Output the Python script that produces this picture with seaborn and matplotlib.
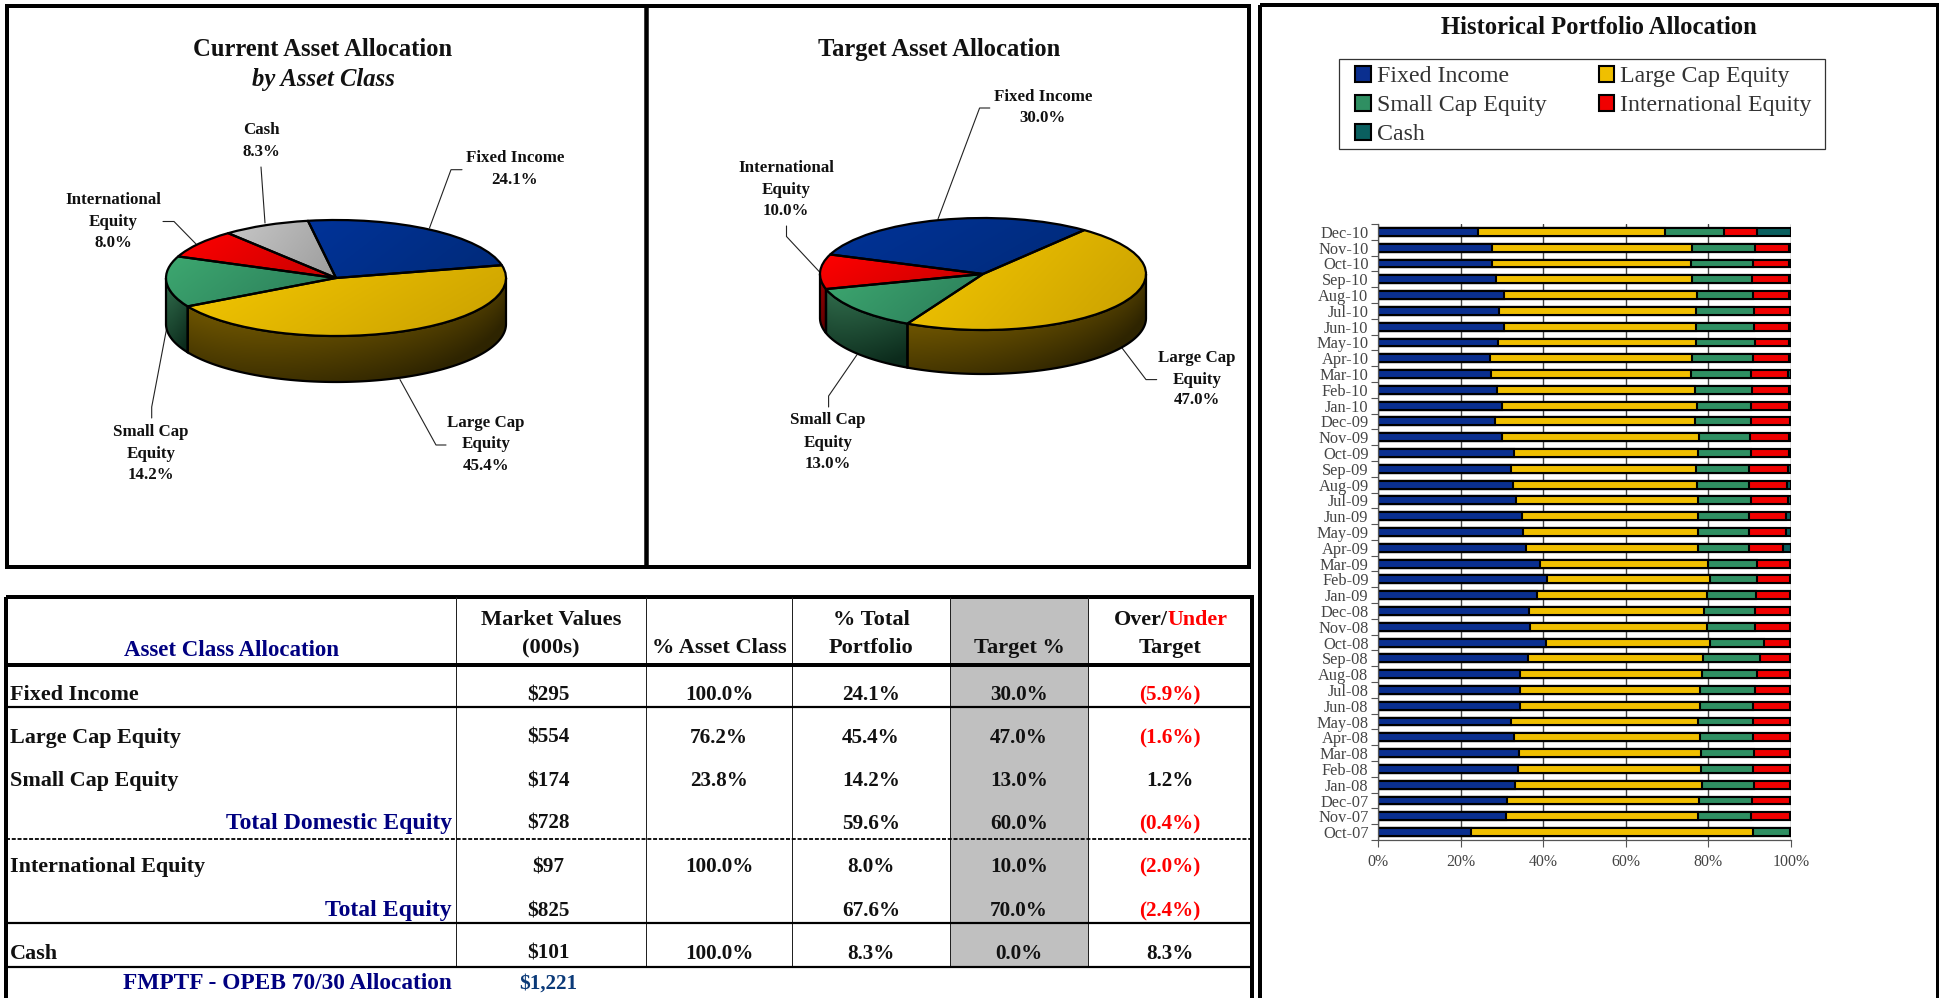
import numpy as np
import matplotlib
matplotlib.use("Agg")
import matplotlib.pyplot as plt
from matplotlib.patches import Rectangle, Polygon
from matplotlib.colors import to_rgb
import seaborn as sns

# ---------- data ----------
asset_names = ["Fixed Income", "Large Cap Equity", "Small Cap Equity", "International Equity", "Cash"]
current_values = [24.1, 45.4, 14.2, 8.0, 8.3]
target_values = [30.0, 47.0, 13.0, 10.0, 0.0]

months = ["Dec-10","Nov-10","Oct-10","Sep-10","Aug-10","Jul-10","Jun-10","May-10","Apr-10","Mar-10","Feb-10","Jan-10",
          "Dec-09","Nov-09","Oct-09","Sep-09","Aug-09","Jul-09","Jun-09","May-09","Apr-09","Mar-09","Feb-09","Jan-09",
          "Dec-08","Nov-08","Oct-08","Sep-08","Aug-08","Jul-08","Jun-08","May-08","Apr-08","Mar-08","Feb-08","Jan-08",
          "Dec-07","Nov-07","Oct-07"]
hist_fixed = [24.1,27.5,27.7,28.5,30.6,29.4,30.6,29.1,27.2,27.4,28.8,30.0,28.4,30.1,32.9,32.1,32.8,33.5,34.9,35.1,35.9,
              39.2,41.0,38.5,36.6,36.7,40.7,36.4,34.4,34.4,34.4,32.2,32.9,34.2,33.9,33.1,31.3,31.1,22.6]
hist_large = [45.4,48.6,48.2,47.6,46.7,47.5,46.5,47.8,48.8,48.5,47.9,47.2,48.3,47.6,44.6,44.8,44.4,43.9,42.5,42.5,41.5,
              40.8,39.4,41.2,42.3,43.0,39.7,42.3,44.0,43.6,43.6,45.3,45.1,44.0,44.3,45.3,46.5,46.5,68.2]
hist_small = [14.2,15.1,14.8,14.5,13.5,14.2,14.0,14.4,14.8,14.3,13.9,13.1,13.5,12.4,12.7,12.9,12.6,12.8,12.5,12.3,12.4,
              11.8,11.4,11.8,12.4,11.6,13.1,13.9,13.4,13.2,12.8,13.3,12.8,12.8,12.6,12.7,12.7,12.7,9.0]
hist_intl = [8.0,8.4,8.9,8.8,8.7,8.6,8.3,8.3,8.7,9.1,8.8,9.1,9.6,9.3,9.3,9.4,9.2,9.1,8.8,8.9,8.3,
             8.0,8.0,8.3,8.5,8.5,6.3,7.2,8.0,8.6,9.0,9.0,9.0,8.8,9.0,8.7,9.3,9.5,0.0]
hist_cash = [8.3,0.4,0.4,0.6,0.5,0.3,0.6,0.4,0.5,0.7,0.6,0.6,0.2,0.6,0.5,0.8,1.0,0.7,1.3,1.2,1.9,
             0.2,0.2,0.2,0.2,0.2,0.2,0.2,0.2,0.2,0.2,0.2,0.2,0.2,0.2,0.2,0.2,0.2,0.2]

table_labels = ["Fixed Income", "Large Cap Equity", "Small Cap Equity", "Total Domestic Equity",
                "International Equity", "Total Equity", "Cash"]
table_market = ["$295", "$554", "$174", "$728", "$97", "$825", "$101"]
table_class = ["100.0%", "76.2%", "23.8%", "", "100.0%", "", "100.0%"]
table_total = ["24.1%", "45.4%", "14.2%", "59.6%", "8.0%", "67.6%", "8.3%"]
table_target = ["30.0%", "47.0%", "13.0%", "60.0%", "10.0%", "70.0%", "0.0%"]
table_over = ["(5.9%)", "(1.6%)", "1.2%", "(0.4%)", "(2.0%)", "(2.4%)", "8.3%"]

# ---------- style ----------
sns.set_theme(style="white")
plt.rcParams["font.family"] = ["Liberation Serif", "DejaVu Serif"]
W, H = 1940, 998
fig = plt.figure(figsize=(W / 100, H / 100), dpi=100, facecolor="white")
PX = 0.72

bar_colors = ["#0a2f8f", "#f0bf00", "#2f8f62", "#f00000", "#0a5f5f"]
top_light = ["#003399", "#f5c800", "#3da870", "#ff0000", "#c8c8c8"]
top_dark = ["#002a78", "#c9a000", "#2a7a58", "#c80000", "#9c9c9c"]
wall_light = ["#002a78", "#6e5500", "#2f6a4a", "#a00000", "#666666"]
wall_dark = ["#001030", "#2e2400", "#0c2b1c", "#500000", "#333333"]


def px_axes(x0, y0, x1, y1, **kw):
    return fig.add_axes([x0 / W, 1 - y1 / H, (x1 - x0) / W, (y1 - y0) / H], **kw)


bg = fig.add_axes([0, 0, 1, 1], zorder=0)
bg.set_xlim(0, W)
bg.set_ylim(H, 0)
bg.axis("off")


def hline(y, x0, x1, px=1.0, **kw):
    bg.plot([x0, x1], [y, y], color=kw.pop("color", "black"), lw=px * PX, solid_capstyle="butt", **kw)


def vline(x, y0, y1, px=1.0, color="black"):
    bg.plot([x, x], [y0, y1], color=color, lw=px * PX, solid_capstyle="butt")


def frame(x0, y0, x1, y1, px=4):
    bg.add_patch(Rectangle((x0, y0), x1 - x0, y1 - y0, fill=False, ec="black", lw=px * PX, joinstyle="miter"))


frame(7, 5.5, 1249.5, 566.5)
vline(646, 5, 566, 4.5)
frame(1260, 5, 1938, 1015)


# ---------- pseudo-3D pies ----------
def shade_image(ax, clip, extent, t, light, dark, zorder):
    a, b = np.array(to_rgb(light)), np.array(to_rgb(dark))
    img = a[None, None, :] * (1 - t[..., None]) + b[None, None, :] * t[..., None]
    im = ax.imshow(img, extent=extent, origin="lower", aspect="auto", zorder=zorder, interpolation="bilinear")
    im.set_clip_path(clip)


def pie3d(values, start, cx, cy, rx, ry, depth, box):
    x0, y0, x1, y1 = box
    ax = px_axes(x0, y0, x1, y1, zorder=1)
    ax.patch.set_alpha(0)
    keep = [i for i, v in enumerate(values) if v > 0]
    vals = [values[i] for i in keep]
    wedges, _ = ax.pie(vals, startangle=start, counterclock=False, colors=[top_light[i] for i in keep],
                       wedgeprops=dict(edgecolor="black", linewidth=1.6, joinstyle="round"), radius=1.0)
    d = depth / ry
    g = np.linspace(-1.02, 1.02, 260)
    gy = np.linspace(-1.02 - d, 1.02, 300)
    X, Y = np.meshgrid(g, gy)
    extent = (g[0], g[-1], gy[0], gy[-1])
    for w, i in zip(wedges, keep):
        th1, th2 = w.theta1, w.theta2
        th = np.radians(np.linspace(th1, th2, 120))
        xs = np.r_[0, np.cos(th)]
        ys = np.r_[0, np.sin(th)]
        xn = (X - xs.min()) / max(xs.max() - xs.min(), 1e-6)
        yn = (ys.max() - Y) / max(ys.max() - ys.min(), 1e-6)
        t = np.clip(0.72 * xn + 0.28 * yn, 0, 1)
        shade_image(ax, w, extent, t, top_light[i], top_dark[i], 4)
        w.set_facecolor("none")
        w.set_zorder(5)
        # front wall: part of the wedge's arc in the lower half of the ellipse
        for k in (-1, 0, 1):
            a1 = max(th1 + 360 * k, 180)
            a2 = min(th2 + 360 * k, 360)
            if a2 <= a1:
                continue
            arc = np.radians(np.linspace(a1, a2, 120))
            top = np.c_[np.cos(arc), np.sin(arc)]
            bot = (top - [0, d])[::-1]
            poly = Polygon(np.r_[top, bot], closed=True, fc="none", ec="black", lw=1.6, zorder=3)
            ax.add_patch(poly)
            yedge = -np.sqrt(np.clip(1 - X ** 2, 0, 1))
            frac = np.clip((yedge - Y) / d, 0, 1)
            xw = (X - top[:, 0].min()) / max(top[:, 0].max() - top[:, 0].min(), 1e-6)
            tw = np.clip(0.6 * xw + 0.55 * frac, 0, 1)
            shade_image(ax, poly, extent, tw, wall_light[i], wall_dark[i], 2)
    ax.set_aspect("auto")
    ax.set_xlim((x0 - cx) / rx, (x1 - cx) / rx)
    ax.set_ylim((cy - y1) / ry, (cy - y0) / ry)
    ax.axis("off")
    return ax


pie3d(current_values, 99.5, 336, 278, 170, 58, 46, (12, 100, 640, 560))
pie3d(target_values, 159.6, 983, 274, 163, 56, 44, (655, 100, 1245, 560))


def stack_label(cx, ys, lines, size=12.2):
    for y, s in zip(ys, lines):
        bg.text(cx, y, s, ha="center", va="center", fontsize=size, fontweight="bold", color="#111111", zorder=6)


def leader(pts):
    xs, ys = zip(*pts)
    bg.plot(xs, ys, color="#222222", lw=0.8, solid_joinstyle="miter", zorder=6)


# titles
TT = 17.7
bg.text(323, 49.5, "Current Asset Allocation", ha="center", va="center", fontsize=TT, fontweight="bold", color="#111111")
bg.text(323, 79.5, "by Asset Class", ha="center", va="center", fontsize=TT, fontweight="bold", style="italic", color="#111111")
bg.text(939, 49.5, "Target Asset Allocation", ha="center", va="center", fontsize=TT, fontweight="bold", color="#111111")
bg.text(1599, 27.5, "Historical Portfolio Allocation", ha="center", va="center", fontsize=TT, fontweight="bold", color="#111111")


def pct(v):
    return f"{v:.1f}%"


# current pie labels
stack_label(515, [158, 179.6], [asset_names[0], pct(current_values[0])])
stack_label(261, [129.6, 151.5], [asset_names[4], pct(current_values[4])])
stack_label(113, [199.6, 222, 242.7], ["International", "Equity", pct(current_values[3])])
stack_label(151, [431.8, 453.6, 474.8], ["Small Cap", "Equity", pct(current_values[2])])
stack_label(486, [423, 444.5, 466.4], ["Large Cap", "Equity", pct(current_values[1])])
leader([(429.5, 228), (451, 169.7), (462, 169.7)])
leader([(265, 223), (261, 167)])
leader([(196, 244), (174, 221.5), (163, 221.5)])
leader([(167, 326.6), (151.7, 407), (151.7, 418)])
leader([(400, 379.6), (436, 445), (446, 445)])

# target pie labels
stack_label(1043, [97, 118.2], [asset_names[0], pct(target_values[0])])
stack_label(786, [167.5, 189.8, 211], ["International", "Equity", pct(target_values[3])])
stack_label(828, [420.4, 442.7, 463.9], ["Small Cap", "Equity", pct(target_values[2])])
stack_label(1197, [357.7, 379.6, 400.4], ["Large Cap", "Equity", pct(target_values[1])])
leader([(938, 219), (979.6, 108), (989.8, 108)])
leader([(819.6, 272), (786.5, 236.5), (786.5, 226)])
leader([(857, 354.7), (828.6, 396), (828.6, 407)])
leader([(1121.6, 347.4), (1146, 379.6), (1156.7, 379.6)])

# ---------- stacked history bars ----------
ax = px_axes(1378, 224, 1791, 840, zorder=1)
series = [hist_fixed, hist_large, hist_small, hist_intl, hist_cash]
cum = np.cumsum(np.array(series), axis=0)
for i in range(4, -1, -1):
    sns.barplot(x=cum[i], y=months, orient="y", color=bar_colors[i], saturation=1, width=0.5,
                edgecolor="black", linewidth=1.5, label=asset_names[i], ax=ax, legend=False)
ax.set_xlim(0, 100)
ax.set_ylim(38.5, -0.5)
ax.set_xlabel("")
ax.set_ylabel("")
ax.set_xticks(np.arange(0, 101, 20))
ax.set_xticklabels([f"{v}%" for v in range(0, 101, 20)])
ax.set_axisbelow(True)
ax.xaxis.grid(True, color="#444444", lw=1.0)
ax.yaxis.grid(False)
ax.set_yticks(np.arange(-0.5, 39, 1), minor=True)
ax.tick_params(axis="y", which="minor", length=5, width=0.8, color="#555555", left=True)
ax.tick_params(axis="y", which="major", length=0, pad=6.8, labelsize=11.8, labelcolor="#444444")
ax.tick_params(axis="x", which="major", length=5, width=0.8, color="#555555", bottom=True, pad=5,
               labelsize=11.4, labelcolor="#444444")
for s in ("top", "right"):
    ax.spines[s].set_visible(False)
for s in ("left", "bottom"):
    ax.spines[s].set_color("#555555")
    ax.spines[s].set_linewidth(0.9)
ax.patch.set_alpha(0)

# legend: frame drawn apart so its box can be wider than the entries' own padding
bg.add_patch(Rectangle((1339, 59), 486, 89.5, fc="white", ec="#333333", lw=0.9, zorder=2))
handles, labels = ax.get_legend_handles_labels()
by_label = dict(zip(labels, handles))
legend_order = [asset_names[0], asset_names[2], asset_names[4], asset_names[1], asset_names[3]]
leg = ax.legend([by_label[n] for n in legend_order], legend_order, ncol=2, fontsize=17.2,
                loc="upper left", bbox_to_anchor=(1355.5 / W, 1 - 66 / H), bbox_transform=fig.transFigure,
                borderaxespad=0, frameon=False,
                handlelength=0.63, handleheight=0.63, handletextpad=0.26, labelspacing=0.33,
                columnspacing=2.18, borderpad=0, labelcolor="#333333")
leg.set_zorder(10)

# ---------- table ----------
bg.add_patch(Rectangle((950, 597), 138, 370, fc="#c0c0c0", ec="none", zorder=0.5))
frame(6.5, 597, 1252, 1015)
for xv in (456.5, 646, 792, 950, 1088):
    vline(xv, 597, 967, 1.0, "#222222")
hline(665, 6, 1252, 4.0)
hline(707, 6, 1252, 2.2)
bg.plot([6, 1252], [838.5, 838.5], color="black", lw=1.3, ls=(0, (2.2, 1.0)))
hline(923, 6, 1252, 2.2)
hline(967, 6, 1252, 2.2)

HEAD = 16.1
LAB = 15.9
VAL = 15.2
TOT = 17.1
NAVY = "#000080"
col_x = [548, 719, 871, 1019, 1170]
row_base = [700, 743, 786, 829, 872, 916, 959]


def cell(x, y, s, ha="center", color="#111111", size=VAL):
    bg.text(x, y, s, ha=ha, va="baseline", fontsize=size, fontweight="bold", color=color, zorder=3)


cell(231.5, 656, "Asset Class Allocation", color=NAVY, size=16.5)
cell(551, 625, "Market Values", size=HEAD)
cell(551, 653, "(000s)", size=HEAD)
cell(719, 653, "% Asset Class", size=HEAD)
cell(871, 625, "% Total", size=HEAD)
cell(871, 653, "Portfolio", size=HEAD)
cell(1019, 653, "Target %", size=HEAD)
cell(1168, 625, "Over/", ha="right", size=15.8)
cell(1168, 625, "Under", ha="left", color="#ff0000", size=15.8)
cell(1170, 653, "Target", size=HEAD)

for y, name, m, c, t, g, o in zip(row_base, table_labels, table_market, table_class, table_total, table_target, table_over):
    if name.startswith("Total"):
        cell(452, y, name, ha="right", color=NAVY, size=TOT)
    else:
        cell(10, y, name, ha="left", size=LAB)
    cell(col_x[0], y, m)
    cell(col_x[1], y, c)
    cell(col_x[2], y, t)
    cell(col_x[3], y, g)
    cell(col_x[4], y, o, color="#ff0000" if o.startswith("(") else "#111111")

cell(452, 989, "FMPTF - OPEB 70/30 Allocation", ha="right", color=NAVY, size=16.8)
cell(548, 989, "$1,221", color="#0b3a78", size=15.2)

fig.savefig("out.png", dpi=100, facecolor="white")
